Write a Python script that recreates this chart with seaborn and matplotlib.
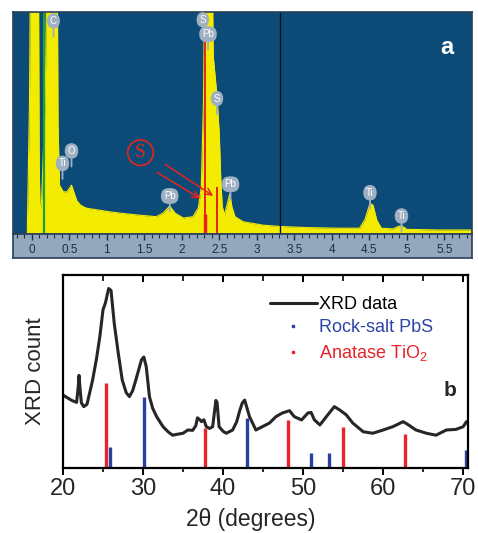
import matplotlib
matplotlib.use('Agg')
import matplotlib.pyplot as plt
from matplotlib.lines import Line2D
import numpy as np
import seaborn as sns

sns.set_theme(style='white')
plt.rcParams['font.family'] = ['Liberation Sans', 'DejaVu Sans']
plt.rcParams['mathtext.fontset'] = 'custom'
plt.rcParams['mathtext.rm'] = 'Liberation Sans'

# --- panel a : EDS spectrum (keV vs counts, clipped at top) ---
eds_energy = [-0.25, -0.06, -0.03, 0.0, 0.08, 0.10, 0.11, 0.13, 0.18, 0.23, 0.33, 0.35, 0.37,
              0.42, 0.47, 0.53, 0.57, 0.60, 0.65, 0.73, 0.85, 1.04, 1.20, 1.40, 1.66, 1.75,
              1.84, 1.91, 2.02, 2.15, 2.22, 2.26, 2.29, 2.33, 2.38, 2.42, 2.47, 2.50, 2.52,
              2.54, 2.57, 2.61, 2.64, 2.67, 2.71, 2.82, 3.08, 3.31, 3.66, 4.10, 4.37, 4.44,
              4.51, 4.55, 4.60, 4.66, 4.82, 4.88, 4.93, 5.00, 5.44, 5.87]
eds_counts = [0, 0, 60, 200, 200, 30, 11, 14, 60, 200, 200, 50, 22,
              19, 19, 22, 18, 15, 13, 11.6, 11, 10, 9.3, 8.6, 7.8, 9.4,
              12.6, 9.4, 7.2, 7.8, 11.7, 21, 60, 200, 200, 80, 62, 45, 25,
              12.3, 8.6, 14, 18, 12, 7.8, 5.5, 4, 3.4, 2.9, 2.6, 2.6, 6.3,
              13.8, 13, 6.3, 2.6, 2.3, 3.3, 3.8, 2.1, 1.8, 1.8]
eds_ticks = [0, 0.5, 1, 1.5, 2, 2.5, 3, 3.5, 4, 4.5, 5, 5.5]

peak_names = ['C', 'S', 'Pb', 'S', 'O', 'Ti', 'Pb', 'Pb', 'Ti', 'Ti']
peak_x = [0.29, 2.28, 2.35, 2.47, 0.53, 0.41, 1.84, 2.65, 4.51, 4.93]
peak_y = [96, 96.5, 90, 61, 37.4, 31.8, 17.1, 22.4, 18.6, 8.1]

# --- panel b : XRD ---
xrd_2theta = [20.0, 20.5, 21.1, 21.7, 21.9, 22.0, 22.15, 22.3, 22.6, 23.0, 23.7, 24.2, 24.6,
              25.0, 25.3, 25.7, 26.0, 26.4, 26.9, 27.4, 27.9, 28.3, 28.7, 29.1, 29.8, 30.1,
              30.4, 30.8, 31.2, 31.7, 32.5, 33.2, 33.7, 34.3, 35.0, 35.6, 36.2, 36.6, 36.8,
              37.1, 37.3, 37.6, 37.9, 38.3, 38.7, 38.95, 39.1, 39.25, 39.5, 40.0, 40.4, 41.2,
              41.7, 42.1, 42.4, 42.7, 43.3, 44.1, 44.9, 45.8, 46.6, 47.4, 48.3, 48.9, 49.8,
              50.6, 51.0, 51.4, 52.1, 52.9, 53.9, 54.6, 55.4, 56.2, 57.5, 58.7, 60.0, 61.2,
              62.5, 63.1, 64.1, 65.4, 66.6, 67.9, 69.1, 70.0, 70.4, 70.6]
xrd_count = [37.8, 36.5, 35, 34, 42, 48, 40, 33.7, 31.8, 33, 45.6, 57, 68,
             82, 85.5, 93, 92, 75, 59.6, 45.6, 39, 37, 40, 45.6, 56, 57.5,
             52.5, 37, 31, 26.6, 21.4, 18.5, 17, 17.5, 18, 19.7, 19.5, 22, 26,
             25, 24, 25, 21.4, 20.5, 21.4, 30, 35, 34, 21.4, 19, 18, 19.7,
             24, 30, 33.7, 35.2, 26.6, 19.7, 21.4, 23.3, 26.6, 28.5, 29.7, 26.6, 24.9,
             28.5, 28.8, 25, 22.3, 26.6, 31.8, 30, 27.5, 23.3, 18.8, 18, 19.7, 21.4,
             24, 22.5, 19.7, 18, 17, 19.7, 20, 21.4, 24, 23]
pbs_pos = [25.9, 30.1, 43.0, 51.0, 53.2, 70.4]
pbs_height = [11, 36.7, 26, 7.6, 7.8, 9.3]
tio2_pos = [25.4, 37.8, 48.1, 55.0, 62.7]
tio2_height = [44, 20.7, 25, 21.4, 17.6]

W, H = 478, 533
fig = plt.figure(figsize=(W / 100, H / 100), dpi=100)
fig.patch.set_facecolor('white')

navy = '#0c4a77'
yellow = '#f4ec00'
bubble = '#9fb0c2'
red = '#e8231f'

ax = fig.add_axes([13 / W, 1 - 234 / H, 459 / W, 222 / H])
ax.set_facecolor(navy)
sns.lineplot(x=eds_energy, y=eds_counts, ax=ax, color=yellow, lw=0.8)
ax.fill_between(eds_energy, 0, eds_counts, color=yellow, lw=0)
ax.set_xlim(-0.25, 5.87)
ax.set_ylim(0, 100)
ax.set_xticks([])
ax.set_yticks([])
for s in ax.spines.values():
    s.set_color('#2a3f58')
    s.set_linewidth(1.2)

ax.axvline(0.16, color='#19a33a', lw=1.6)
ax.axvline(3.31, color='#06121f', lw=1.0)
ax.axvline(2.31, color=red, lw=1.4)
ax.vlines(2.47, 0, 21, color=red, lw=1.4)
ax.vlines(2.315, 0, 9, color=red, lw=2.5)

for name, px, py in zip(peak_names, peak_x, peak_y):
    ax.annotate(name, xy=(px, py - 7), xytext=(px, py), ha='center', va='center',
                fontsize=7, color='white', annotation_clip=False,
                bbox=dict(boxstyle='round,pad=0.3,rounding_size=0.8', fc=bubble, ec='none'),
                arrowprops=dict(arrowstyle='-', color=bubble, lw=1.3, shrinkA=0, shrinkB=0))

ax.text(1.45, 36.6, 'S', ha='center', va='center', color=red, fontsize=14,
        family='Liberation Serif',
        bbox=dict(boxstyle='circle,pad=0.22', fc='none', ec=red, lw=1.2))
ax.annotate('', xy=(2.28, 15.3), xytext=(1.64, 28.4),
            arrowprops=dict(arrowstyle='->', color=red, lw=1.1))
ax.annotate('', xy=(2.45, 16.5), xytext=(1.75, 32),
            arrowprops=dict(arrowstyle='->', color=red, lw=1.1))
ax.text(5.53, 84, 'a', ha='center', va='center', color='white', fontsize=17, fontweight='bold')

# energy scale strip
axb = fig.add_axes([13 / W, 1 - 258 / H, 459 / W, 24 / H])
axb.set_facecolor('#93a8bd')
axb.set_xlim(-0.25, 5.87)
axb.set_ylim(0, 1)
axb.set_yticks([])
axb.set_xticks(eds_ticks)
axb.set_xticklabels([f'{t:g}' for t in eds_ticks])
axb.set_xticks(np.arange(-0.2, 5.85, 0.1), minor=True)
axb.tick_params(axis='x', which='both', direction='in', top=True, bottom=False,
                labelbottom=True, colors='#1b2d48', pad=-10, labelsize=8.5)
axb.tick_params(axis='x', which='major', length=4, width=1)
axb.tick_params(axis='x', which='minor', length=3, width=0.8)
for s in axb.spines.values():
    s.set_color('#2a3f58')
    s.set_linewidth(1.2)

# --- panel b ---
ax2 = fig.add_axes([63 / W, 1 - 468 / H, 405 / W, 193 / H])
sns.lineplot(x=xrd_2theta, y=xrd_count, ax=ax2, color='#262626', lw=2.2)
ax2.vlines(pbs_pos, 0, pbs_height, color='#2b3f9e', lw=2.4)
ax2.vlines(tio2_pos, 0, tio2_height, color='#e8232a', lw=2.4)
ax2.set_xlim(20, 70.6)
ax2.set_ylim(0, 100)
ax2.set_xticks([20, 30, 40, 50, 60, 70])
ax2.set_xticks([25, 35, 45, 55, 65], minor=True)
ax2.set_yticks([])
ax2.tick_params(axis='x', which='both', direction='out', bottom=True, top=False,
                labelsize=17, pad=2, color='black')
ax2.tick_params(axis='x', which='major', length=5, width=1.4)
ax2.tick_params(axis='x', which='minor', length=3, width=1.2)
top = ax2.secondary_xaxis('top')
top.set_xticks([20, 30, 40, 50, 60, 70])
top.set_xticks([25, 35, 45, 55, 65], minor=True)
top.tick_params(axis='x', which='both', direction='in', labeltop=False, color='black')
top.tick_params(axis='x', which='major', length=5, width=1.4)
top.tick_params(axis='x', which='minor', length=4, width=1.2)
top.spines['top'].set_visible(False)
for s in ax2.spines.values():
    s.set_color('black')
    s.set_linewidth(1.6)
ax2.set_xlabel('2θ (degrees)', fontsize=16.5)
ax2.xaxis.set_label_coords(0.464, -0.205)
ax2.set_ylabel('XRD count', fontsize=16, labelpad=12)
ax2.text(68.4, 40.4, 'b', fontsize=15, fontweight='bold', ha='center', va='center')

handles = [Line2D([], [], color='#262626', lw=2.2),
           Line2D([], [], color='#2b3f9e', marker='s', ms=2, ls='none'),
           Line2D([], [], color='#e8232a', marker='s', ms=2, ls='none')]
leg = ax2.legend(handles, ['XRD data', 'Rock-salt PbS', 'Anatase TiO$_2$'],
                 loc='upper left', bbox_to_anchor=((270 - 63) / 405, (468 - 296) / 193),
                 frameon=False, fontsize=13, handlelength=2.6, handletextpad=0.1,
                 labelspacing=0.36, borderpad=0, borderaxespad=0)
for txt, c in zip(leg.get_texts(), ['black', '#2b44a8', '#e8232a']):
    txt.set_color(c)

fig.savefig('out.png', dpi=100)
